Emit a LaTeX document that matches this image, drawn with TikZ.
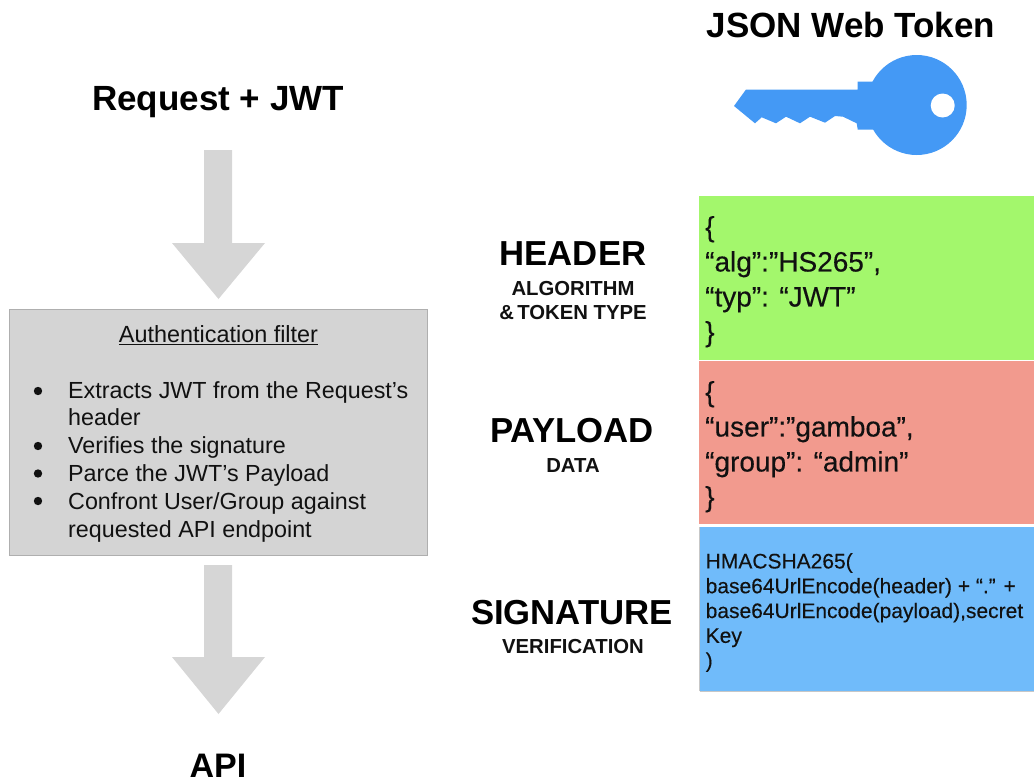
\documentclass[tikz,border=0pt]{standalone}
\usepackage{fontspec}
\setmainfont{Liberation Sans}
\newfontfamily\codefont[FakeBold=0.25]{Liberation Sans}
\definecolor{keyblue}{HTML}{4499F5}
\definecolor{arrowgray}{HTML}{D6D6D6}
\definecolor{boxgray}{HTML}{D4D4D4}
\definecolor{boxedge}{HTML}{AFAFAF}
\definecolor{hgreen}{HTML}{A3F76C}
\definecolor{pred}{HTML}{F29A8E}
\definecolor{sblue}{HTML}{70BBFA}
\definecolor{txt}{HTML}{111111}
\tikzset{
  x=1pt,y=-1pt,
  title/.style={font=\bfseries\fontsize{35}{38}\selectfont,text=black,inner sep=0pt,anchor=base},
  sect/.style={font=\bfseries\fontsize{34.7}{38}\selectfont,text=black,inner sep=0pt,anchor=base},
  sub/.style={font=\bfseries\fontsize{20.3}{24}\selectfont,text=txt,inner sep=0pt,anchor=base},
  code/.style={font=\codefont\fontsize{28}{35}\selectfont,text=txt,inner sep=0pt,anchor=north west,align=left},
  smallcode/.style={font=\codefont\fontsize{21}{24.8}\selectfont,text=txt,inner sep=0pt,anchor=north west,align=left},
  bodytxt/.style={font=\fontsize{23.3}{27.8}\selectfont,text=txt,inner sep=0pt,anchor=north west,align=left},
  flow/.style={fill=arrowgray,draw=none},
}
\begin{document}
\begin{tikzpicture}
\useasboundingbox (0,0) rectangle (1034,782);
% titles
\node[title] (req) at (218,110) {Request + JWT};
\node[title] (jwt) at (851,37) {JSON Web Token};
\node[title,font=\bfseries\fontsize{34}{38}\selectfont] (api) at (218,777) {API};
% key
\fill[keyblue] (916.7,105) circle[radius=50];
\fill[keyblue] (734,106) -- (746,89.5) -- (857.7,89.5) -- (857.7,81.7) -- (880,81.7)
  -- (880,129.5) -- (857.7,129.5) -- (856.7,123.3) -- (843,116.7) -- (835,116) -- (825,122.7) -- (810,116.7)
  -- (800,123.3) -- (786,116.7) -- (776,123.3) -- (761.7,117.3) -- (755,123.3) -- cycle;
\fill[white] (942.7,105.5) circle[radius=12];
% flow arrows
\fill[flow] (204,150) -- (232,150) -- (232,243) -- (265,243) -- (218.5,299) -- (172,243) -- (204,243) -- cycle;
\fill[flow] (204,565) -- (232,565) -- (232,657) -- (265,657) -- (218.5,714) -- (172,657) -- (204,657) -- cycle;
% filter box
\filldraw[fill=boxgray,draw=boxedge,line width=1pt] (9.5,309.5) rectangle (427.5,555);
\node[font=\fontsize{23.4}{27}\selectfont,text=txt,inner sep=0pt] (ftitle) at (218.5,335) {\underline{Authentication filter}};
\foreach \y in {391,446,473.5,501}{\fill[txt] (38,\y) circle[radius=4.2];}
\node[bodytxt] (fl) at (68,381) {Extracts JWT from the Request’s\\header\\Verifies the signature\\Parce the JWT’s Payload\\Confront User/Group against\\requested API endpoint};
% panels
\fill[hgreen] (699,196) rectangle (1034,360);
\fill[pred] (699,361) rectangle (1034,524);
\fill[sblue] (699.5,527) rectangle (1034,691);
\draw[boxedge!70,line width=0.8pt] (699.5,691) -- (1034,691) (699.5,527) -- (699.5,691);
\node[code] (h) at (705,216) {\{\\“alg”:”HS265”,\\“typ”: “JWT”\\\}};
\node[code] (p) at (705,381) {\{\\“user”:”gamboa”,\\“group”: “admin”\\\}};
\node[smallcode] (s) at (705.5,553) {HMACSHA265(\\base64UrlEncode(header) + “.” +\\base64UrlEncode(payload),secret\\Key\\)};
% section labels
\node[sect] (l1) at (573,265) {HEADER};
\node[sub] (l1s) at (573,295) {ALGORITHM};
\node[sub] (l1t) at (573,319) {\&\,TOKEN TYPE};
\node[sect] (l2) at (572,442) {PAYLOAD};
\node[sub] (l2s) at (573,472) {DATA};
\node[sect] (l3) at (572,624) {SIGNATURE};
\node[sub] (l3s) at (573,653) {VERIFICATION};
\end{tikzpicture}
\end{document}
